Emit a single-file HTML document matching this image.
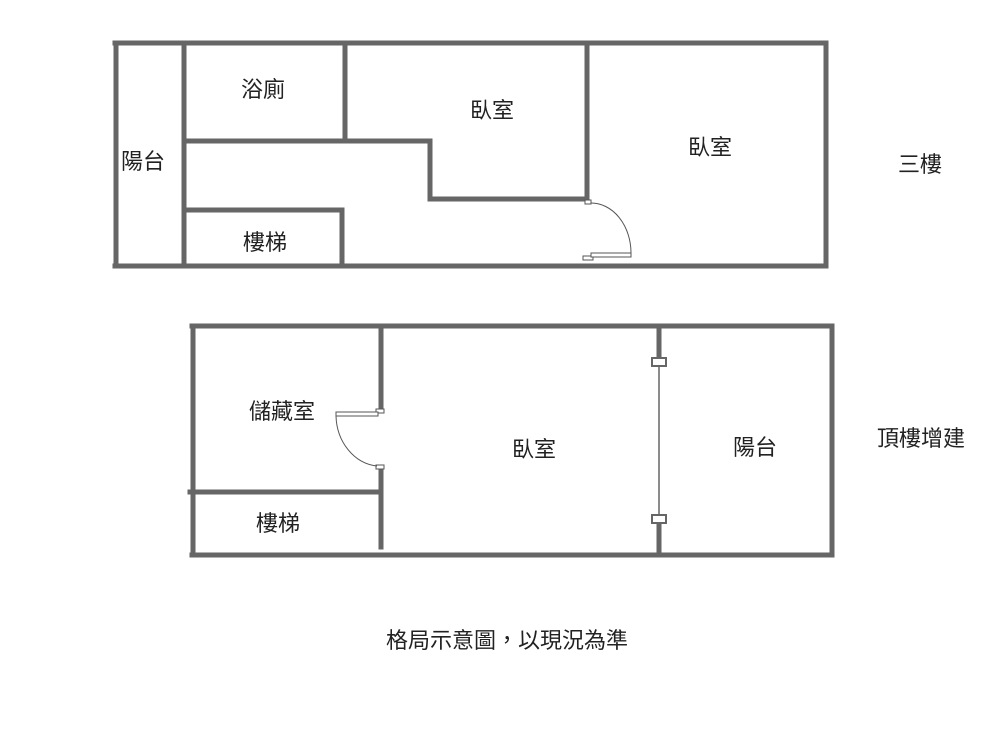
<!DOCTYPE html>
<html><head><meta charset="utf-8"><style>
html,body{margin:0;padding:0;background:#fff;}
svg text{font-family:"Liberation Sans","Noto Sans CJK TC",sans-serif;font-size:22px;fill:#222;}
</style></head><body>
<svg width="1004" height="724" viewBox="0 0 1004 724" xmlns="http://www.w3.org/2000/svg">
<g stroke="#666" stroke-width="5" fill="none" stroke-linecap="square">
<line x1="115" y1="43" x2="826" y2="43"/>
<line x1="116" y1="43" x2="116" y2="266"/>
<line x1="115" y1="266" x2="826" y2="266"/>
<line x1="826" y1="43" x2="826" y2="266"/>
<line x1="184" y1="43" x2="184" y2="266"/>
<line x1="345" y1="43" x2="345" y2="140"/>
<line x1="186" y1="141" x2="430" y2="141"/>
<line x1="430" y1="141" x2="430" y2="198"/>
<line x1="430" y1="199" x2="587" y2="199"/>
<line x1="587" y1="46" x2="587" y2="199"/>
<line x1="186" y1="210" x2="342" y2="210"/>
<line x1="342" y1="210" x2="342" y2="264"/>
<line x1="192" y1="326" x2="832" y2="326"/>
<line x1="193" y1="326" x2="193" y2="555"/>
<line x1="192" y1="555" x2="832" y2="555"/>
<line x1="832" y1="326" x2="832" y2="555"/>
<line x1="381" y1="328" x2="381" y2="408"/>
<line x1="381" y1="469" x2="381" y2="547"/>
<line x1="190" y1="492" x2="381" y2="492"/>
<line x1="659" y1="328" x2="659" y2="356"/>
<line x1="659" y1="526" x2="659" y2="553"/>
</g>
<g stroke="#555" stroke-width="1" fill="#fff">
<rect x="585" y="200" width="6" height="4"/>
<rect x="583" y="256" width="10" height="4"/>
<rect x="591" y="253" width="40" height="4"/>
<path d="M591 203 A40 50 0 0 1 631 253" fill="none"/>
<rect x="376" y="409" width="8" height="4"/>
<rect x="336" y="412" width="42" height="4"/>
<rect x="376" y="465" width="8" height="4"/>
<path d="M336 416 A45 52 0 0 0 377 466" fill="none"/>
<line x1="659" y1="366" x2="659" y2="515" stroke="#666" stroke-width="1.5"/>
<rect x="652" y="358" width="14" height="8" stroke="#666" stroke-width="2"/>
<rect x="652" y="515" width="14" height="8" stroke="#666" stroke-width="2"/>
</g>
<text x="241" y="97">浴廁</text>
<text x="470" y="118">臥室</text>
<text x="688" y="155">臥室</text>
<text x="121" y="169">陽台</text>
<text x="243" y="250">樓梯</text>
<text x="898" y="172">三樓</text>
<text x="249" y="419">儲藏室</text>
<text x="512" y="457">臥室</text>
<text x="733" y="455">陽台</text>
<text x="256" y="531">樓梯</text>
<text x="877" y="446">頂樓增建</text>
<text x="386" y="648">格局示意圖，以現況為準</text>
</svg>
</body></html>
